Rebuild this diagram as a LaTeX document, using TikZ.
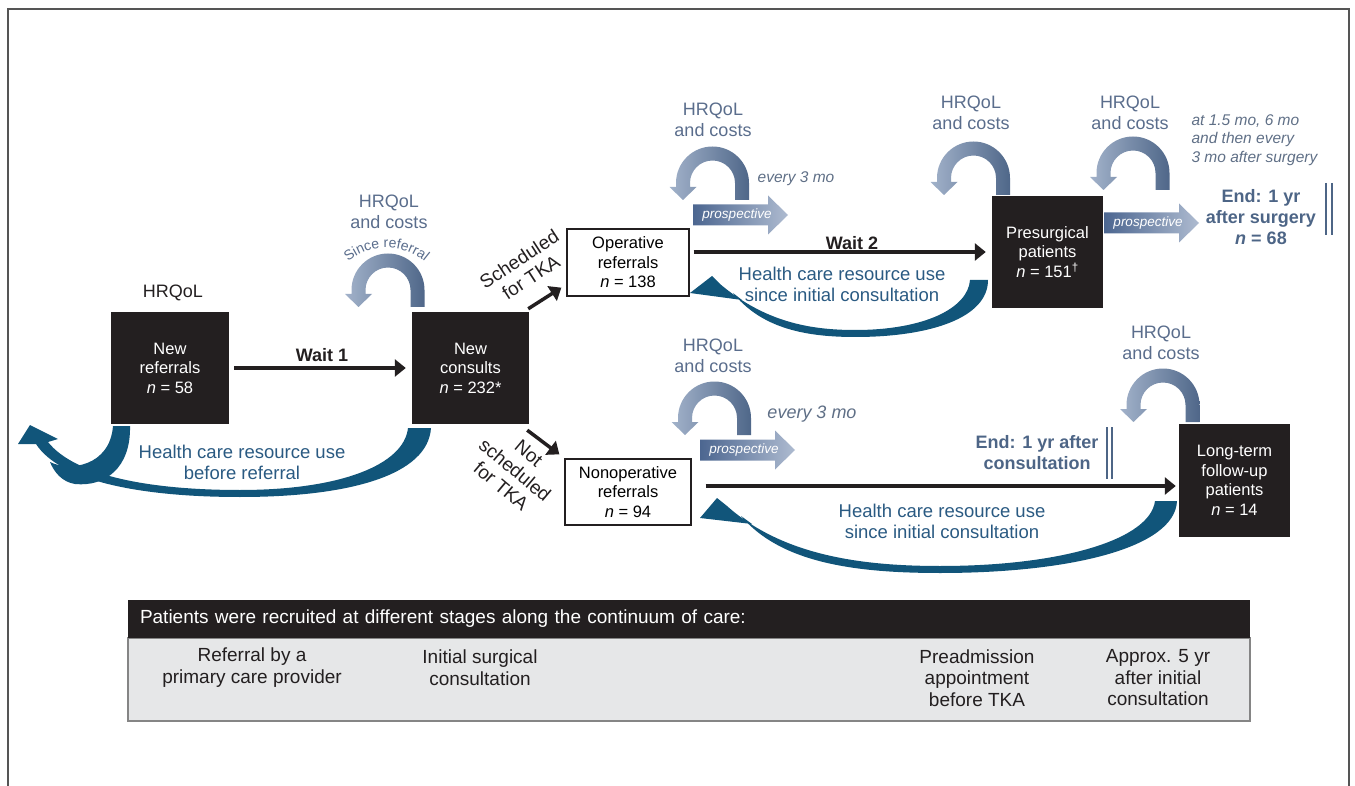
\documentclass[tikz,border=0pt]{standalone}
\usepackage{fontspec}
\setmainfont{Liberation Sans}
\usetikzlibrary{arrows.meta,decorations.text}

\definecolor{boxblack}{HTML}{231F20}
\definecolor{hrqblue}{HTML}{5A6D8C}
\definecolor{hcblue}{HTML}{2A5A82}
\definecolor{ribbonblue}{HTML}{11557A}
\definecolor{endblue}{HTML}{4D6586}
\definecolor{notegray}{HTML}{5F6F86}
\definecolor{curlL}{HTML}{A2B2CA}
\definecolor{curlR}{HTML}{4F6789}
\definecolor{prosL}{HTML}{4C6690}
\definecolor{prosR}{HTML}{AEBBD0}
\definecolor{tblgray}{HTML}{E6E7E8}
\definecolor{tblborder}{HTML}{858585}
\definecolor{framegray}{HTML}{555555}

\tikzset{
  darkbox/.style={fill=boxblack, text=white, inner sep=0pt, align=center,
    font=\fontsize{16.5}{19.5}\selectfont},
  openbox/.style={draw=boxblack, line width=1.3pt, fill=white, inner sep=0pt,
    align=center, font=\fontsize{16.5}{19.5}\selectfont},
  flow/.style={draw=boxblack, line width=3.5pt, -{Triangle[length=11pt,width=17pt]}},
  waitlbl/.style={text=boxblack, font=\bfseries\fontsize{18}{21}\selectfont},
  diaglbl/.style={text=boxblack, align=center, font=\fontsize{19}{21.5}\selectfont},
  hrqlbl/.style={text=hrqblue, align=center, font=\fontsize{18}{21}\selectfont},
  hculbl/.style={text=hcblue, align=center, font=\fontsize{18.5}{21}\selectfont},
  notelbl/.style={text=notegray, font=\itshape\fontsize{15.5}{18.5}\selectfont},
  endlbl/.style={text=endblue, align=center, font=\bfseries\fontsize{18}{21}\selectfont},
  endbar/.style={draw=endblue, line width=2pt},
  ribbon/.style={fill=ribbonblue},
  protext/.style={text=white, inner sep=0pt, font=\itshape\fontsize{13.5}{16}\selectfont},
  tbltext/.style={text=boxblack, align=center, font=\fontsize{19}{21.5}\selectfont},
  % curled HRQoL arrow, origin between its two feet
  hloop/.pic={
    \shade[left color=curlL, right color=curlR]
      (36.5,0) -- (36.5,-17) arc[start angle=0, end angle=-180, radius=36.5]
      -- (-36.5,-13) -- (-43,-13) -- (-29.5,0) -- (-16,-13) -- (-22.5,-13) -- (-22.5,-17)
      arc[start angle=-180, end angle=0, radius=22.5] -- (22.5,0) -- cycle;
  },
  % block arrow with "prospective"
  prosp/.pic={
    \shade[left color=prosL, right color=prosR]
      (0,-10.5) -- (75,-10.5) -- (75,-19.5) -- (95,0) -- (75,19.5) -- (75,10.5) -- (0,10.5) -- cycle;
    \node[protext] (-lbl) at (44,0) {prospective};
  }
}

\begin{document}
\begin{tikzpicture}[x=1pt,y=-1pt]
\useasboundingbox (0,0) rectangle (1355,786);
\draw[framegray, line width=1.5pt] (8,786) -- (8,9) -- (1349,9) -- (1349,786);

% health care resource use ribbons
\fill[ribbon] (30,425) -- (58,439) -- (48,442)
  .. controls (75,476) and (150,490) .. (240,490)
  .. controls (340,490) and (404,465) .. (408,428)
  -- (431,428)
  .. controls (428,475) and (350,497) .. (240,497)
  .. controls (140,497) and (60,481) .. (36,444)
  -- (18,444) -- cycle;
\fill[ribbon] (113,426) -- (130,426)
  .. controls (131,468) and (105,487) .. (75,484)
  .. controls (62,482) and (54,472) .. (50,462)
  .. controls (70,472) and (110,466) .. (113,426) -- cycle;
\fill[ribbon] (690,293) -- (712,276) -- (720,284)
  .. controls (765,322) and (810,330) .. (855,330)
  .. controls (925,330) and (968,308) .. (970,280)
  -- (988,280)
  .. controls (988,318) and (930,337) .. (855,337)
  .. controls (800,337) and (760,326) .. (733,293)
  -- (742,300) -- cycle;
\fill[ribbon] (700,518) -- (717,498) -- (727,506)
  .. controls (782,555) and (860,566) .. (940,566)
  .. controls (1060,566) and (1150,540) .. (1155,501)
  -- (1177,501)
  .. controls (1175,548) and (1070,573) .. (940,573)
  .. controls (852,573) and (780,562) .. (741,516)
  -- (752,524) -- cycle;

% patient groups
\node[darkbox, minimum width=118pt, minimum height=112pt] (newref) at (170,368) {New\\referrals\\\textit{n} = 58};
\node[darkbox, minimum width=117pt, minimum height=112pt] (newcon) at (470.5,368) {New\\consults\\\textit{n} = 232*};
\node[openbox, minimum width=122pt, minimum height=67pt] (opref) at (628,262.5) {Operative\\referrals\\\textit{n} = 138};
\node[openbox, minimum width=126pt, minimum height=66pt] (nonop) at (628,492) {Nonoperative\\referrals\\\textit{n} = 94};
\node[darkbox, minimum width=111pt, minimum height=112pt] (presurg) at (1047.5,252) {Presurgical\\patients\\\textit{n} = 151\textsuperscript{†}};
\node[darkbox, minimum width=111pt, minimum height=113pt] (longterm) at (1234.5,480.5) {Long-term\\follow-up\\patients\\\textit{n} = 14};

\path
  (newref) edge[flow, shorten <=5pt, shorten >=6pt] (newcon)
  ([xshift=-1pt,yshift=3pt]newcon.north east) edge[flow] ([xshift=-5pt,yshift=9pt]opref.south west)
  ([xshift=-2pt,yshift=-6pt]newcon.south east) edge[flow] ([xshift=-5pt,yshift=4pt]nonop.north west)
  (opref.east |- presurg.west) edge[flow, shorten <=4pt, shorten >=6pt] (presurg)
  ([yshift=6pt]nonop.east) edge[flow, shorten <=14pt, shorten >=3pt] ([yshift=-5.5pt]longterm.west);

\node[waitlbl] (wait1) at (322,355) {Wait 1};
\node[waitlbl] (wait2) at (852,243) {Wait 2};
\node[diaglbl, rotate=33] (sched) at (525,268) {Scheduled\\for TKA};
\node[diaglbl, rotate=-40] (notsched) at (515,470) {Not\\scheduled\\for TKA};

% HRQoL loops
\pic at (388,307) {hloop};
\pic at (712.5,200) {hloop};
\pic at (973.5,195) {hloop};
\pic at (1133,190) {hloop};
\pic at (714.5,435) {hloop};
\pic at (1163,422) {hloop};
\path[decorate, decoration={text along path, text align=center,
    text={|\fontsize{14}{16}\selectfont\color{hrqblue}|Since referral}}]
  (340.8,269.2) arc[start angle=-140, end angle=-40, radius=59.6];

\node[text=boxblack, font=\fontsize{18}{21}\selectfont] (hrq0) at (173,293) {HRQoL};
\node[hrqlbl] (hrq1) at (389,211.5) {HRQoL\\and costs};
\node[hrqlbl] (hrq2) at (713,119.5) {HRQoL\\and costs};
\node[hrqlbl] (hrq3) at (971,112.5) {HRQoL\\and costs};
\node[hrqlbl] (hrq4) at (1130,112.5) {HRQoL\\and costs};
\node[hrqlbl] (hrq5) at (713,355.5) {HRQoL\\and costs};
\node[hrqlbl] (hrq6) at (1161,343) {HRQoL\\and costs};

\pic (pr1) at (693,215) {prosp};
\pic (pr2) at (1104,223) {prosp};
\pic (pr3) at (700,450) {prosp};

\node[notelbl] (every1) at (796,179) {every 3 mo};
\node[notelbl, font=\itshape\fontsize{18}{21}\selectfont] (every2) at (812,414) {every 3 mo};
\node[notelbl, anchor=west, align=left] (aftersurg) at (1188,140) {at 1.5 mo, 6 mo\\and then every\\3 mo after surgery};

\node[endlbl] (end1) at (1261,217) {End: 1 yr\\after surgery\\\textit{n} = 68};
\node[endlbl] (end2) at (1037,452.5) {End: 1 yr after\\consultation};
\draw[endbar] (1326,183) -- (1326,235) (1332,183) -- (1332,235);
\draw[endbar] (1107,427) -- (1107,479) (1112,427) -- (1112,479);

\node[hculbl] (hcu1) at (242,462) {Health care resource use\\before referral};
\node[hculbl] (hcu2) at (842,284) {Health care resource use\\since initial consultation};
\node[hculbl] (hcu3) at (942,521.5) {Health care resource use\\since initial consultation};

% recruitment stages
\node[draw=tblborder, line width=1.2pt, fill=tblgray, minimum width=1122pt, minimum height=83pt] (tbody) at (689,679.5) {};
\node[fill=boxblack, text=white, minimum width=1122pt, minimum height=38pt, inner xsep=12pt,
  text width=1098pt, align=left, font=\fontsize{19}{21}\selectfont] (thead) at (689,619)
  {Patients were recruited at different stages along the continuum of care:};
\node[tbltext] (stage1) at (252,667.5) {Referral by a\\primary care provider};
\node[tbltext] (stage2) at (480,667.5) {Initial surgical\\consultation};
\node[tbltext] (stage3) at (977,678) {Preadmission\\appointment\\before TKA};
\node[tbltext] (stage4) at (1158,678) {Approx. 5 yr\\after initial\\consultation};
\end{tikzpicture}
\end{document}
